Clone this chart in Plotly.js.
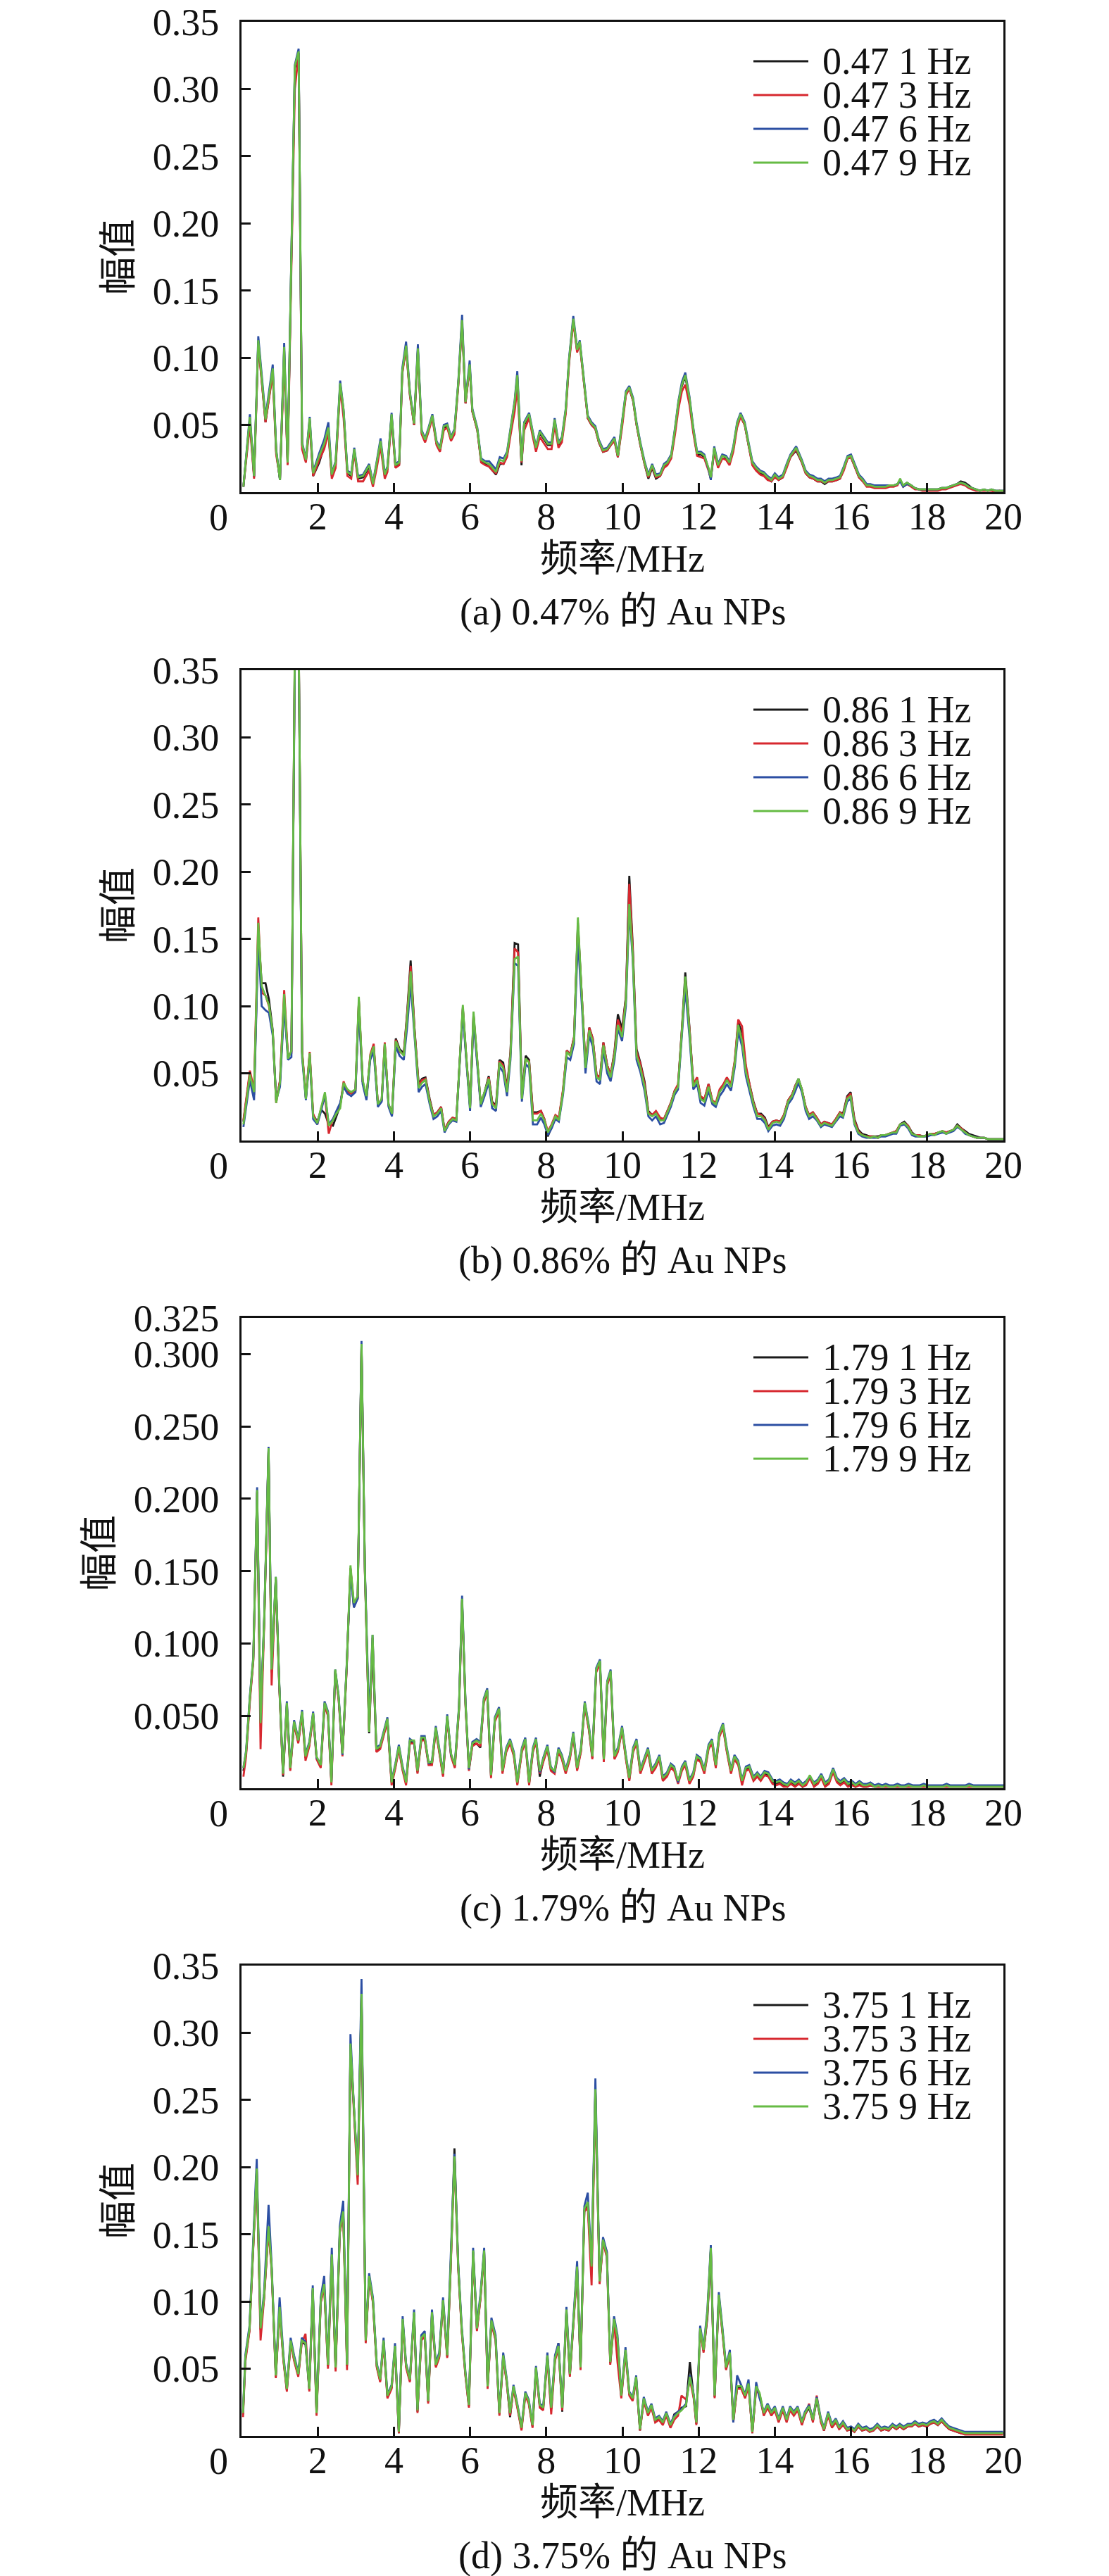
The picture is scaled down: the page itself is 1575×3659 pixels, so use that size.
<!DOCTYPE html>
<html>
<head>
<meta charset="utf-8">
<script src="https://cdn.plot.ly/plotly-3.0.1.min.js"></script>
<style>html,body{margin:0;padding:0;background:#fff;}#chart{width:1575px;height:3659px;}</style>
</head>
<body>
<div id="chart"></div>
<script>
// ---------------- DATA ----------------
const xTickVals = [2,4,6,8,10,12,14,16,18,20];
const yTickValsStd = [0.05,0.10,0.15,0.20,0.25,0.30,0.35];
const yTickValsC = [0.05,0.10,0.15,0.20,0.25,0.30,0.325];
const xTitle = '频率/MHz';
const yTitle = '幅值';
const captions = ['(a) 0.47% 的 Au NPs','(b) 0.86% 的 Au NPs','(c) 1.79% 的 Au NPs','(d) 3.75% 的 Au NPs'];
const labelsA = ['0.47 1 Hz','0.47 3 Hz','0.47 6 Hz','0.47 9 Hz'];
const labelsB = ['0.86 1 Hz','0.86 3 Hz','0.86 6 Hz','0.86 9 Hz'];
const labelsC = ['1.79 1 Hz','1.79 3 Hz','1.79 6 Hz','1.79 9 Hz'];
const labelsD = ['3.75 1 Hz','3.75 3 Hz','3.75 6 Hz','3.75 9 Hz'];

// ---- panel (a)
const freqA = [0.05,0.22,0.33,0.44,0.63,0.82,0.91,1.01,1.12,1.21,
1.40,1.50,1.59,1.69,1.79,1.88,2.04,2.17,2.28,2.37,
2.47,2.59,2.68,2.78,2.88,2.96,3.06,3.19,3.35,3.45,
3.55,3.65,3.76,3.83,3.94,4.04,4.14,4.22,4.32,4.42,
4.53,4.63,4.73,4.82,4.91,5.01,5.12,5.21,5.31,5.40,
5.50,5.59,5.69,5.79,5.88,5.99,6.06,6.19,6.29,6.40,
6.50,6.59,6.68,6.78,6.88,6.97,7.06,7.17,7.24,7.35,
7.42,7.55,7.64,7.73,7.83,7.94,8.04,8.14,8.22,8.32,
8.41,8.51,8.60,8.71,8.81,8.88,8.99,9.09,9.19,9.29,
9.38,9.49,9.60,9.69,9.79,9.88,9.99,10.09,10.18,10.28,
10.37,10.47,10.58,10.68,10.78,10.88,10.99,11.09,11.18,11.28,
11.38,11.47,11.56,11.65,11.76,11.86,11.96,12.06,12.15,12.26,
12.32,12.41,12.51,12.62,12.72,12.81,12.91,13.01,13.10,13.21,
13.31,13.41,13.51,13.62,13.71,13.81,13.91,14.00,14.10,14.21,
14.31,14.41,14.56,14.71,14.81,14.91,15.01,15.12,15.21,15.31,
15.41,15.51,15.62,15.71,15.81,15.91,16.00,16.10,16.21,16.31,
16.41,16.51,16.62,16.72,16.82,16.91,17.01,17.12,17.22,17.29,
17.37,17.47,17.58,17.68,17.78,17.87,17.97,18.08,18.18,18.28,
18.38,18.49,18.58,18.68,18.78,18.88,18.99,19.09,19.18,19.28,
19.38,19.49,19.59,19.69,19.79,19.90,20.00];
const a1Hz = [0.004,0.054,0.011,0.112,0.052,0.090,0.030,0.009,0.106,0.021,
0.315,0.327,0.035,0.023,0.053,0.012,0.022,0.034,0.046,0.012,
0.020,0.080,0.059,0.014,0.012,0.031,0.010,0.011,0.019,0.006,
0.021,0.037,0.012,0.017,0.057,0.019,0.021,0.089,0.108,0.073,
0.050,0.106,0.044,0.038,0.046,0.056,0.036,0.031,0.048,0.049,
0.039,0.045,0.080,0.127,0.066,0.094,0.060,0.046,0.023,0.021,
0.019,0.016,0.013,0.021,0.021,0.027,0.045,0.066,0.086,0.020,
0.050,0.057,0.044,0.032,0.044,0.039,0.035,0.035,0.053,0.035,
0.039,0.060,0.098,0.128,0.105,0.111,0.080,0.055,0.050,0.047,
0.037,0.030,0.031,0.035,0.039,0.026,0.050,0.073,0.077,0.068,
0.050,0.035,0.021,0.010,0.018,0.010,0.012,0.019,0.021,0.026,
0.046,0.066,0.079,0.086,0.069,0.046,0.028,0.028,0.026,0.017,
0.010,0.032,0.019,0.025,0.025,0.021,0.032,0.050,0.057,0.050,
0.035,0.021,0.017,0.014,0.013,0.010,0.008,0.012,0.009,0.011,
0.019,0.026,0.031,0.022,0.014,0.011,0.010,0.008,0.008,0.006,
0.008,0.008,0.009,0.010,0.017,0.025,0.026,0.019,0.011,0.008,
0.005,0.005,0.004,0.004,0.004,0.004,0.005,0.005,0.006,0.009,
0.005,0.007,0.005,0.003,0.002,0.002,0.002,0.002,0.002,0.002,
0.003,0.003,0.004,0.005,0.006,0.008,0.007,0.005,0.003,0.002,
0.001,0.002,0.001,0.002,0.001,0.001,0.001];
const a3Hz = [0.004,0.050,0.010,0.110,0.052,0.088,0.028,0.010,0.100,0.020,
0.300,0.326,0.032,0.022,0.050,0.012,0.024,0.032,0.044,0.010,
0.018,0.078,0.055,0.012,0.010,0.030,0.008,0.008,0.016,0.004,
0.018,0.034,0.010,0.015,0.055,0.018,0.020,0.088,0.107,0.072,
0.050,0.105,0.043,0.037,0.045,0.055,0.035,0.030,0.046,0.048,
0.038,0.043,0.079,0.126,0.066,0.093,0.060,0.046,0.022,0.020,
0.019,0.016,0.014,0.022,0.021,0.026,0.042,0.060,0.078,0.022,
0.046,0.055,0.042,0.030,0.041,0.036,0.032,0.032,0.050,0.033,
0.037,0.058,0.096,0.127,0.104,0.110,0.080,0.055,0.050,0.047,
0.037,0.030,0.031,0.035,0.038,0.026,0.048,0.072,0.077,0.068,
0.050,0.035,0.021,0.011,0.019,0.011,0.012,0.018,0.020,0.025,
0.043,0.062,0.075,0.080,0.065,0.044,0.027,0.026,0.025,0.016,
0.010,0.030,0.018,0.025,0.024,0.020,0.030,0.048,0.056,0.050,
0.035,0.020,0.016,0.013,0.012,0.009,0.008,0.011,0.009,0.011,
0.018,0.026,0.032,0.022,0.014,0.011,0.010,0.008,0.008,0.007,
0.008,0.008,0.009,0.010,0.016,0.025,0.026,0.019,0.011,0.008,
0.004,0.004,0.003,0.003,0.003,0.003,0.004,0.004,0.005,0.009,
0.004,0.006,0.004,0.002,0.002,0.001,0.001,0.001,0.001,0.001,
0.002,0.002,0.003,0.004,0.005,0.006,0.005,0.003,0.002,0.001,
0.001,0.001,0.001,0.001,0.000,0.001,0.000];
const a6Hz = [0.004,0.058,0.012,0.116,0.056,0.095,0.032,0.009,0.111,0.023,
0.318,0.330,0.037,0.025,0.056,0.015,0.029,0.039,0.052,0.014,
0.023,0.083,0.061,0.016,0.014,0.033,0.012,0.013,0.021,0.007,
0.023,0.040,0.014,0.019,0.059,0.021,0.023,0.092,0.112,0.075,
0.052,0.110,0.046,0.040,0.048,0.058,0.038,0.033,0.050,0.051,
0.041,0.047,0.082,0.132,0.068,0.098,0.062,0.048,0.025,0.023,
0.023,0.020,0.017,0.026,0.025,0.030,0.048,0.068,0.090,0.024,
0.052,0.059,0.046,0.034,0.046,0.041,0.037,0.037,0.055,0.037,
0.041,0.062,0.100,0.131,0.107,0.113,0.082,0.057,0.052,0.049,
0.039,0.032,0.033,0.037,0.041,0.028,0.052,0.075,0.079,0.070,
0.052,0.037,0.023,0.013,0.021,0.013,0.014,0.021,0.023,0.028,
0.048,0.068,0.082,0.089,0.071,0.048,0.030,0.030,0.028,0.017,
0.009,0.034,0.021,0.028,0.027,0.023,0.034,0.052,0.059,0.052,
0.037,0.023,0.019,0.016,0.015,0.012,0.010,0.014,0.011,0.013,
0.021,0.028,0.034,0.024,0.016,0.013,0.012,0.010,0.010,0.008,
0.010,0.010,0.011,0.012,0.019,0.027,0.028,0.021,0.013,0.010,
0.006,0.006,0.005,0.005,0.005,0.005,0.005,0.005,0.006,0.008,
0.004,0.006,0.005,0.003,0.002,0.002,0.002,0.002,0.002,0.002,
0.003,0.003,0.004,0.005,0.006,0.007,0.006,0.004,0.003,0.002,
0.001,0.002,0.001,0.002,0.001,0.001,0.001];
const a9Hz = [0.004,0.056,0.012,0.113,0.054,0.092,0.031,0.009,0.108,0.022,
0.317,0.328,0.036,0.024,0.055,0.014,0.027,0.036,0.048,0.013,
0.022,0.081,0.061,0.015,0.013,0.032,0.011,0.012,0.020,0.006,
0.022,0.038,0.013,0.018,0.058,0.020,0.022,0.090,0.109,0.074,
0.051,0.107,0.045,0.039,0.047,0.057,0.037,0.032,0.049,0.050,
0.040,0.046,0.081,0.128,0.067,0.095,0.061,0.047,0.024,0.022,
0.021,0.018,0.015,0.024,0.023,0.029,0.047,0.067,0.087,0.023,
0.051,0.058,0.045,0.033,0.045,0.040,0.036,0.036,0.054,0.036,
0.040,0.061,0.099,0.129,0.106,0.112,0.081,0.056,0.051,0.048,
0.038,0.031,0.032,0.036,0.040,0.027,0.051,0.074,0.078,0.069,
0.051,0.036,0.022,0.012,0.020,0.012,0.013,0.020,0.022,0.027,
0.047,0.067,0.080,0.087,0.070,0.047,0.029,0.029,0.027,0.018,
0.011,0.033,0.020,0.027,0.026,0.022,0.033,0.051,0.058,0.051,
0.036,0.022,0.018,0.015,0.014,0.011,0.009,0.013,0.010,0.012,
0.020,0.027,0.033,0.023,0.015,0.012,0.011,0.009,0.009,0.007,
0.009,0.009,0.010,0.011,0.018,0.026,0.027,0.020,0.012,0.009,
0.005,0.005,0.004,0.004,0.004,0.004,0.005,0.005,0.006,0.010,
0.005,0.007,0.005,0.003,0.002,0.002,0.002,0.002,0.002,0.002,
0.003,0.003,0.004,0.005,0.006,0.007,0.006,0.004,0.003,0.002,
0.001,0.002,0.001,0.002,0.001,0.001,0.001];

// ---- panel (b)
const freqB = [0.05,0.22,0.33,0.44,0.53,0.63,0.72,0.82,0.91,1.01,
1.12,1.22,1.31,1.40,1.50,1.59,1.69,1.79,1.88,1.99,
2.09,2.19,2.29,2.40,2.49,2.59,2.68,2.78,2.88,2.99,
3.08,3.18,3.28,3.38,3.47,3.58,3.68,3.76,3.86,3.95,
4.05,4.15,4.26,4.35,4.44,4.54,4.65,4.74,4.83,4.94,
5.04,5.14,5.24,5.33,5.44,5.54,5.64,5.72,5.81,5.90,
6.00,6.09,6.19,6.28,6.38,6.49,6.58,6.68,6.77,6.87,
6.97,7.06,7.17,7.26,7.36,7.46,7.55,7.65,7.76,7.86,
7.95,8.04,8.14,8.24,8.33,8.44,8.54,8.63,8.73,8.83,
8.94,9.03,9.13,9.22,9.32,9.41,9.50,9.60,9.69,9.79,
9.88,9.99,10.09,10.18,10.27,10.37,10.47,10.58,10.68,10.78,
10.88,10.99,11.09,11.18,11.27,11.37,11.46,11.56,11.65,11.76,
11.86,11.96,12.05,12.15,12.26,12.36,12.45,12.55,12.65,12.74,
12.85,12.95,13.04,13.14,13.24,13.35,13.44,13.54,13.64,13.74,
13.83,13.94,14.04,14.14,14.24,14.35,14.45,14.54,14.62,14.71,
14.81,14.90,15.00,15.10,15.21,15.30,15.40,15.50,15.60,15.71,
15.79,15.90,15.99,16.09,16.19,16.29,16.40,16.50,16.60,16.71,
16.79,16.90,17.00,17.10,17.19,17.29,17.40,17.50,17.60,17.69,
17.79,17.90,18.00,18.09,18.19,18.29,18.40,18.50,18.60,18.69,
18.79,18.90,19.00,19.09,19.19,19.30,19.40,19.50,19.60,19.71,
19.81,19.91,20.00];
const b1Hz = [0.014,0.050,0.034,0.155,0.117,0.117,0.105,0.082,0.030,0.044,
0.105,0.062,0.066,0.368,0.378,0.066,0.031,0.064,0.019,0.014,
0.023,0.020,0.012,0.011,0.018,0.026,0.042,0.037,0.035,0.037,
0.104,0.044,0.032,0.062,0.070,0.027,0.030,0.072,0.027,0.020,
0.076,0.068,0.065,0.096,0.134,0.084,0.042,0.046,0.047,0.031,
0.019,0.021,0.025,0.008,0.014,0.017,0.016,0.057,0.099,0.062,
0.025,0.094,0.057,0.027,0.036,0.048,0.029,0.026,0.060,0.058,
0.039,0.066,0.147,0.146,0.034,0.063,0.060,0.021,0.021,0.022,
0.016,0.003,0.010,0.018,0.016,0.037,0.067,0.064,0.077,0.162,
0.104,0.056,0.084,0.076,0.049,0.047,0.073,0.056,0.049,0.066,
0.094,0.083,0.107,0.197,0.145,0.068,0.058,0.044,0.022,0.019,
0.021,0.016,0.016,0.022,0.028,0.037,0.041,0.083,0.125,0.084,
0.042,0.046,0.033,0.030,0.042,0.029,0.027,0.037,0.041,0.046,
0.041,0.059,0.088,0.080,0.054,0.040,0.029,0.020,0.020,0.017,
0.010,0.014,0.015,0.014,0.019,0.030,0.034,0.041,0.046,0.038,
0.025,0.019,0.021,0.017,0.012,0.014,0.013,0.012,0.016,0.021,
0.020,0.033,0.036,0.016,0.008,0.005,0.004,0.003,0.003,0.003,
0.004,0.004,0.005,0.006,0.007,0.012,0.014,0.011,0.006,0.004,
0.004,0.003,0.004,0.005,0.005,0.006,0.007,0.006,0.007,0.008,
0.012,0.009,0.007,0.005,0.004,0.003,0.002,0.002,0.001,0.001,
0.001,0.001,0.001];
const b3Hz = [0.015,0.052,0.038,0.166,0.110,0.108,0.100,0.080,0.028,0.045,
0.112,0.063,0.065,0.365,0.378,0.067,0.032,0.066,0.020,0.012,
0.024,0.033,0.005,0.016,0.021,0.026,0.044,0.036,0.035,0.037,
0.104,0.044,0.031,0.064,0.072,0.027,0.030,0.073,0.026,0.019,
0.075,0.066,0.064,0.094,0.130,0.083,0.041,0.045,0.046,0.030,
0.019,0.021,0.025,0.008,0.014,0.017,0.016,0.056,0.098,0.062,
0.025,0.093,0.057,0.027,0.035,0.047,0.028,0.025,0.059,0.056,
0.038,0.065,0.143,0.140,0.032,0.060,0.059,0.020,0.020,0.022,
0.016,0.007,0.012,0.019,0.017,0.038,0.067,0.064,0.077,0.160,
0.104,0.056,0.084,0.076,0.049,0.047,0.073,0.056,0.049,0.065,
0.090,0.080,0.106,0.191,0.142,0.066,0.057,0.042,0.021,0.019,
0.022,0.017,0.016,0.022,0.028,0.037,0.042,0.082,0.120,0.083,
0.042,0.047,0.033,0.031,0.042,0.030,0.028,0.038,0.042,0.047,
0.042,0.060,0.090,0.085,0.056,0.040,0.028,0.020,0.019,0.016,
0.009,0.014,0.015,0.014,0.019,0.030,0.034,0.041,0.045,0.038,
0.025,0.019,0.021,0.017,0.012,0.014,0.013,0.012,0.016,0.021,
0.019,0.032,0.035,0.015,0.007,0.004,0.003,0.003,0.003,0.002,
0.004,0.004,0.005,0.006,0.007,0.012,0.013,0.011,0.005,0.004,
0.004,0.003,0.004,0.005,0.005,0.006,0.007,0.006,0.007,0.008,
0.011,0.009,0.006,0.004,0.003,0.002,0.002,0.002,0.001,0.001,
0.001,0.001,0.001];
const b6Hz = [0.010,0.045,0.030,0.150,0.100,0.097,0.095,0.078,0.030,0.040,
0.100,0.060,0.062,0.360,0.375,0.062,0.030,0.062,0.016,0.012,
0.022,0.034,0.012,0.016,0.022,0.028,0.040,0.035,0.033,0.036,
0.098,0.042,0.030,0.060,0.066,0.025,0.029,0.068,0.025,0.018,
0.070,0.063,0.060,0.085,0.117,0.077,0.036,0.040,0.042,0.027,
0.016,0.018,0.022,0.006,0.012,0.015,0.014,0.054,0.095,0.060,
0.022,0.090,0.055,0.025,0.033,0.043,0.024,0.022,0.055,0.051,
0.033,0.060,0.132,0.130,0.029,0.057,0.054,0.012,0.012,0.017,
0.012,0.004,0.009,0.016,0.014,0.034,0.062,0.060,0.072,0.150,
0.098,0.050,0.078,0.070,0.044,0.042,0.067,0.050,0.044,0.060,
0.083,0.074,0.100,0.172,0.135,0.060,0.051,0.037,0.018,0.015,
0.018,0.012,0.013,0.019,0.025,0.034,0.038,0.078,0.113,0.077,
0.038,0.042,0.028,0.026,0.037,0.027,0.025,0.033,0.037,0.042,
0.037,0.055,0.081,0.070,0.048,0.035,0.025,0.016,0.016,0.013,
0.007,0.011,0.012,0.011,0.016,0.027,0.031,0.037,0.043,0.036,
0.022,0.016,0.018,0.015,0.010,0.012,0.011,0.010,0.014,0.018,
0.017,0.029,0.031,0.012,0.005,0.003,0.002,0.002,0.002,0.002,
0.003,0.003,0.004,0.005,0.005,0.011,0.012,0.009,0.004,0.003,
0.003,0.003,0.003,0.004,0.004,0.005,0.006,0.005,0.006,0.007,
0.010,0.008,0.005,0.004,0.003,0.002,0.002,0.002,0.001,0.001,
0.001,0.001,0.001];
const b9Hz = [0.012,0.049,0.036,0.162,0.115,0.108,0.101,0.081,0.028,0.043,
0.109,0.061,0.067,0.370,0.380,0.065,0.031,0.065,0.018,0.013,
0.024,0.036,0.011,0.015,0.020,0.024,0.043,0.038,0.036,0.038,
0.107,0.045,0.033,0.063,0.070,0.027,0.031,0.072,0.027,0.020,
0.074,0.067,0.063,0.092,0.126,0.081,0.039,0.043,0.045,0.029,
0.018,0.020,0.024,0.007,0.013,0.016,0.015,0.058,0.101,0.063,
0.024,0.096,0.058,0.027,0.036,0.046,0.027,0.024,0.058,0.054,
0.036,0.063,0.135,0.137,0.031,0.061,0.058,0.015,0.015,0.020,
0.015,0.006,0.011,0.018,0.015,0.036,0.066,0.063,0.075,0.166,
0.104,0.054,0.082,0.074,0.047,0.045,0.071,0.054,0.047,0.063,
0.086,0.077,0.104,0.176,0.138,0.063,0.054,0.040,0.020,0.018,
0.020,0.015,0.015,0.021,0.027,0.036,0.040,0.081,0.122,0.081,
0.040,0.045,0.031,0.029,0.040,0.029,0.027,0.036,0.040,0.045,
0.040,0.058,0.086,0.074,0.051,0.038,0.027,0.018,0.018,0.015,
0.008,0.013,0.014,0.013,0.018,0.029,0.033,0.040,0.046,0.038,
0.024,0.018,0.020,0.016,0.011,0.013,0.012,0.011,0.015,0.020,
0.018,0.031,0.033,0.013,0.006,0.004,0.003,0.002,0.003,0.002,
0.004,0.004,0.005,0.006,0.006,0.012,0.013,0.010,0.005,0.004,
0.003,0.003,0.004,0.005,0.004,0.006,0.007,0.005,0.007,0.008,
0.011,0.008,0.006,0.004,0.003,0.002,0.002,0.002,0.001,0.001,
0.001,0.001,0.001];

// ---- panel (c)
const freqC = [0.05,0.12,0.22,0.31,0.41,0.50,0.60,0.71,0.79,0.90,
0.99,1.09,1.19,1.28,1.38,1.49,1.59,1.68,1.78,1.88,
1.97,2.08,2.18,2.27,2.36,2.46,2.55,2.65,2.76,2.86,
2.95,3.05,3.15,3.24,3.35,3.44,3.54,3.64,3.74,3.83,
3.94,4.04,4.13,4.23,4.32,4.42,4.53,4.62,4.72,4.81,
4.91,5.00,5.10,5.19,5.29,5.40,5.50,5.60,5.71,5.79,
5.88,5.97,6.06,6.17,6.27,6.36,6.45,6.55,6.65,6.76,
6.85,6.95,7.05,7.15,7.24,7.36,7.45,7.55,7.65,7.73,
7.83,7.92,8.03,8.12,8.22,8.32,8.41,8.51,8.62,8.71,
8.81,8.91,9.01,9.12,9.21,9.31,9.41,9.51,9.60,9.69,
9.79,9.88,9.99,10.09,10.18,10.28,10.37,10.47,10.58,10.67,
10.77,10.87,10.97,11.06,11.17,11.27,11.36,11.46,11.56,11.65,
11.76,11.86,11.95,12.05,12.15,12.26,12.35,12.45,12.54,12.64,
12.74,12.85,12.94,13.04,13.14,13.24,13.33,13.44,13.54,13.63,
13.73,13.83,13.94,14.03,14.13,14.23,14.33,14.42,14.53,14.63,
14.73,14.82,14.92,15.03,15.13,15.22,15.32,15.42,15.53,15.63,
15.72,15.82,15.92,16.03,16.12,16.22,16.32,16.42,16.51,16.62,
16.72,16.82,16.91,17.01,17.12,17.22,17.31,17.41,17.51,17.62,
17.71,17.81,17.91,18.01,18.10,18.21,18.31,18.41,18.51,18.60,
18.71,18.81,18.91,19.01,19.10,19.21,19.31,19.41,19.50,19.60,
19.71,19.81,19.91,20.00];
const c1Hz = [0.012,0.024,0.062,0.089,0.205,0.045,0.119,0.234,0.080,0.145,
0.072,0.008,0.058,0.013,0.045,0.032,0.052,0.021,0.030,0.051,
0.021,0.015,0.058,0.051,0.004,0.081,0.062,0.023,0.083,0.152,
0.125,0.132,0.306,0.149,0.038,0.100,0.026,0.028,0.038,0.047,
0.004,0.015,0.028,0.013,0.004,0.032,0.032,0.011,0.034,0.034,
0.017,0.017,0.041,0.026,0.009,0.049,0.023,0.015,0.055,0.130,
0.058,0.013,0.030,0.031,0.028,0.060,0.067,0.008,0.047,0.054,
0.011,0.026,0.032,0.023,0.003,0.026,0.033,0.003,0.026,0.033,
0.008,0.019,0.028,0.013,0.011,0.026,0.021,0.011,0.021,0.037,
0.013,0.026,0.058,0.041,0.021,0.081,0.087,0.019,0.072,0.080,
0.021,0.026,0.041,0.021,0.006,0.026,0.032,0.011,0.019,0.026,
0.011,0.015,0.021,0.006,0.009,0.015,0.013,0.004,0.013,0.017,
0.004,0.009,0.021,0.019,0.011,0.028,0.032,0.015,0.036,0.043,
0.026,0.011,0.021,0.017,0.004,0.013,0.014,0.006,0.009,0.006,
0.010,0.009,0.004,0.003,0.004,0.002,0.001,0.004,0.002,0.004,
0.001,0.003,0.008,0.002,0.004,0.008,0.002,0.004,0.012,0.005,
0.003,0.005,0.002,0.003,0.001,0.003,0.001,0.001,0.002,0.001,
0.001,0.001,0.001,0.001,0.001,0.001,0.001,0.001,0.001,0.001,
0.001,0.001,0.001,0.001,0.001,0.001,0.001,0.001,0.001,0.001,
0.001,0.001,0.001,0.001,0.001,0.001,0.001,0.001,0.001,0.001,
0.001,0.001,0.001,0.001];
const c3Hz = [0.008,0.022,0.060,0.088,0.204,0.027,0.118,0.233,0.071,0.144,
0.071,0.009,0.057,0.012,0.044,0.031,0.051,0.019,0.029,0.050,
0.020,0.014,0.057,0.050,0.002,0.080,0.061,0.022,0.082,0.152,
0.127,0.131,0.305,0.148,0.040,0.104,0.025,0.027,0.037,0.046,
0.002,0.014,0.027,0.012,0.002,0.031,0.031,0.010,0.033,0.033,
0.016,0.016,0.040,0.025,0.008,0.048,0.022,0.014,0.054,0.129,
0.057,0.012,0.029,0.031,0.029,0.059,0.066,0.007,0.046,0.053,
0.010,0.025,0.031,0.022,0.002,0.025,0.032,0.002,0.025,0.032,
0.010,0.018,0.027,0.012,0.010,0.025,0.020,0.010,0.020,0.036,
0.012,0.025,0.057,0.040,0.020,0.080,0.086,0.018,0.071,0.079,
0.020,0.025,0.040,0.020,0.005,0.025,0.031,0.010,0.018,0.025,
0.010,0.014,0.020,0.005,0.008,0.014,0.012,0.003,0.012,0.016,
0.003,0.008,0.020,0.018,0.010,0.027,0.031,0.014,0.035,0.042,
0.025,0.010,0.020,0.016,0.002,0.012,0.013,0.005,0.008,0.005,
0.009,0.008,0.003,0.002,0.003,0.001,0.001,0.003,0.001,0.003,
0.001,0.002,0.007,0.001,0.003,0.007,0.001,0.003,0.011,0.004,
0.002,0.004,0.001,0.002,0.001,0.002,0.001,0.001,0.002,0.001,
0.001,0.001,0.001,0.001,0.001,0.001,0.001,0.001,0.001,0.001,
0.001,0.001,0.001,0.001,0.001,0.001,0.001,0.001,0.001,0.001,
0.001,0.001,0.001,0.001,0.001,0.001,0.001,0.001,0.001,0.001,
0.001,0.001,0.001,0.001];
const c6Hz = [0.014,0.026,0.064,0.091,0.208,0.047,0.121,0.236,0.083,0.146,
0.074,0.011,0.060,0.015,0.047,0.034,0.054,0.023,0.032,0.053,
0.021,0.017,0.060,0.053,0.005,0.082,0.064,0.023,0.085,0.148,
0.125,0.131,0.309,0.151,0.048,0.106,0.028,0.030,0.040,0.049,
0.005,0.017,0.030,0.015,0.005,0.034,0.032,0.013,0.036,0.036,
0.017,0.019,0.043,0.028,0.011,0.051,0.023,0.017,0.057,0.133,
0.060,0.013,0.032,0.034,0.032,0.062,0.069,0.010,0.049,0.056,
0.013,0.028,0.034,0.025,0.005,0.028,0.035,0.005,0.028,0.035,
0.011,0.021,0.030,0.015,0.011,0.028,0.023,0.013,0.023,0.039,
0.015,0.028,0.060,0.043,0.023,0.083,0.089,0.021,0.074,0.082,
0.023,0.028,0.043,0.023,0.008,0.028,0.034,0.013,0.021,0.028,
0.013,0.017,0.023,0.008,0.011,0.017,0.015,0.004,0.015,0.019,
0.006,0.011,0.023,0.021,0.013,0.030,0.034,0.017,0.038,0.045,
0.028,0.013,0.023,0.019,0.006,0.015,0.016,0.008,0.011,0.008,
0.012,0.011,0.006,0.005,0.006,0.004,0.003,0.006,0.004,0.006,
0.003,0.005,0.008,0.004,0.006,0.010,0.004,0.006,0.014,0.007,
0.005,0.007,0.004,0.005,0.003,0.005,0.003,0.003,0.004,0.002,
0.003,0.002,0.003,0.002,0.002,0.003,0.002,0.002,0.003,0.002,
0.002,0.002,0.003,0.002,0.002,0.002,0.002,0.002,0.003,0.002,
0.002,0.002,0.002,0.002,0.003,0.002,0.002,0.002,0.002,0.002,
0.002,0.002,0.002,0.002];
const c9Hz = [0.014,0.025,0.063,0.090,0.206,0.045,0.120,0.235,0.082,0.146,
0.073,0.010,0.059,0.014,0.046,0.033,0.053,0.022,0.031,0.052,
0.022,0.016,0.059,0.052,0.004,0.082,0.063,0.024,0.084,0.154,
0.128,0.133,0.307,0.150,0.039,0.106,0.027,0.029,0.039,0.048,
0.004,0.016,0.029,0.014,0.004,0.033,0.033,0.012,0.035,0.035,
0.018,0.018,0.042,0.027,0.010,0.050,0.024,0.016,0.056,0.131,
0.059,0.014,0.031,0.033,0.031,0.061,0.068,0.009,0.048,0.055,
0.012,0.027,0.033,0.024,0.004,0.027,0.034,0.004,0.027,0.034,
0.012,0.020,0.029,0.014,0.012,0.027,0.022,0.012,0.022,0.038,
0.014,0.027,0.059,0.042,0.022,0.082,0.088,0.020,0.073,0.081,
0.022,0.027,0.042,0.022,0.007,0.027,0.033,0.012,0.020,0.027,
0.012,0.016,0.022,0.007,0.010,0.016,0.014,0.005,0.014,0.018,
0.005,0.010,0.022,0.020,0.012,0.029,0.033,0.016,0.037,0.044,
0.027,0.012,0.022,0.018,0.005,0.014,0.015,0.007,0.010,0.007,
0.011,0.010,0.005,0.004,0.005,0.003,0.002,0.005,0.003,0.005,
0.002,0.004,0.009,0.003,0.005,0.009,0.003,0.005,0.013,0.006,
0.004,0.006,0.003,0.004,0.002,0.004,0.002,0.002,0.003,0.001,
0.002,0.001,0.002,0.001,0.001,0.002,0.001,0.001,0.002,0.001,
0.001,0.001,0.002,0.001,0.001,0.001,0.001,0.001,0.002,0.001,
0.001,0.001,0.001,0.001,0.002,0.001,0.001,0.001,0.001,0.001,
0.001,0.001,0.001,0.001];

// ---- panel (d)
const freqD = [0.04,0.10,0.21,0.29,0.40,0.50,0.59,0.71,0.79,0.90,
1.00,1.10,1.19,1.29,1.38,1.49,1.58,1.68,1.78,1.87,
1.97,2.08,2.17,2.27,2.37,2.47,2.58,2.67,2.77,2.86,
2.95,3.05,3.15,3.26,3.35,3.45,3.55,3.64,3.73,3.83,
3.94,4.03,4.13,4.23,4.32,4.42,4.53,4.62,4.72,4.81,
4.90,5.00,5.10,5.19,5.29,5.40,5.49,5.59,5.69,5.78,
5.88,5.97,6.08,6.18,6.27,6.37,6.46,6.56,6.67,6.77,
6.87,6.96,7.05,7.14,7.24,7.35,7.45,7.54,7.64,7.73,
7.83,7.92,8.03,8.13,8.23,8.32,8.42,8.53,8.62,8.72,
8.81,8.90,9.00,9.09,9.19,9.29,9.40,9.49,9.59,9.68,
9.78,9.87,9.97,10.08,10.18,10.27,10.36,10.46,10.56,10.67,
10.76,10.86,10.96,11.06,11.15,11.26,11.36,11.46,11.55,11.67,
11.77,11.87,11.94,12.04,12.13,12.23,12.32,12.42,12.53,12.62,
12.72,12.82,12.91,13.01,13.12,13.22,13.31,13.41,13.51,13.60,
13.71,13.81,13.91,14.00,14.10,14.21,14.31,14.40,14.50,14.60,
14.71,14.79,14.90,15.00,15.10,15.21,15.29,15.40,15.50,15.60,
15.69,15.79,15.90,16.00,16.09,16.19,16.29,16.40,16.49,16.59,
16.69,16.79,16.88,16.99,17.09,17.19,17.28,17.38,17.49,17.59,
17.68,17.78,17.88,17.99,18.08,18.18,18.28,18.38,18.47,18.58,
18.68,18.78,18.88,18.99,19.08,19.18,19.28,19.38,19.49,19.59,
19.68,19.78,19.88,19.99];
const d1Hz = [0.016,0.057,0.079,0.129,0.198,0.079,0.102,0.155,0.125,0.044,
0.095,0.057,0.034,0.070,0.057,0.045,0.070,0.068,0.034,0.109,
0.016,0.100,0.112,0.052,0.134,0.050,0.152,0.166,0.052,0.291,
0.241,0.193,0.328,0.070,0.118,0.100,0.052,0.041,0.070,0.029,
0.036,0.066,0.002,0.086,0.052,0.041,0.091,0.018,0.072,0.075,
0.025,0.091,0.052,0.059,0.100,0.059,0.125,0.214,0.125,0.079,
0.045,0.022,0.137,0.079,0.102,0.137,0.036,0.085,0.072,0.016,
0.059,0.041,0.014,0.036,0.022,0.005,0.031,0.025,0.007,0.050,
0.022,0.020,0.059,0.020,0.057,0.069,0.018,0.093,0.045,0.089,
0.125,0.050,0.168,0.172,0.125,0.257,0.114,0.145,0.137,0.054,
0.086,0.072,0.029,0.063,0.031,0.027,0.043,0.004,0.027,0.016,
0.022,0.011,0.013,0.009,0.016,0.007,0.016,0.018,0.021,0.022,
0.055,0.029,0.009,0.079,0.063,0.088,0.139,0.029,0.104,0.079,
0.050,0.061,0.011,0.036,0.036,0.029,0.038,0.002,0.036,0.031,
0.016,0.022,0.016,0.020,0.011,0.020,0.011,0.020,0.016,0.020,
0.009,0.016,0.021,0.011,0.027,0.011,0.004,0.016,0.007,0.011,
0.005,0.009,0.004,0.005,0.003,0.007,0.004,0.005,0.003,0.004,
0.007,0.004,0.005,0.004,0.007,0.005,0.007,0.005,0.007,0.007,
0.009,0.007,0.008,0.007,0.009,0.010,0.008,0.011,0.008,0.005,
0.004,0.003,0.002,0.002,0.002,0.002,0.002,0.002,0.002,0.002,
0.002,0.002,0.002,0.002];
const d3Hz = [0.014,0.055,0.078,0.128,0.197,0.071,0.101,0.153,0.124,0.043,
0.094,0.056,0.033,0.069,0.056,0.044,0.069,0.076,0.033,0.108,
0.015,0.099,0.111,0.050,0.133,0.048,0.151,0.165,0.049,0.290,
0.240,0.187,0.327,0.069,0.117,0.099,0.051,0.040,0.069,0.028,
0.035,0.065,0.002,0.085,0.051,0.040,0.090,0.017,0.071,0.074,
0.024,0.090,0.051,0.058,0.099,0.058,0.124,0.206,0.124,0.078,
0.044,0.021,0.136,0.078,0.101,0.136,0.035,0.084,0.071,0.015,
0.058,0.040,0.015,0.035,0.021,0.004,0.030,0.024,0.006,0.049,
0.021,0.019,0.058,0.016,0.056,0.065,0.019,0.092,0.044,0.088,
0.124,0.049,0.167,0.170,0.112,0.256,0.113,0.144,0.133,0.053,
0.085,0.055,0.028,0.062,0.030,0.026,0.042,0.004,0.026,0.015,
0.021,0.010,0.012,0.008,0.015,0.006,0.012,0.015,0.030,0.027,
0.042,0.028,0.008,0.078,0.062,0.090,0.138,0.028,0.103,0.078,
0.049,0.060,0.010,0.035,0.035,0.028,0.037,0.002,0.035,0.030,
0.015,0.021,0.015,0.019,0.010,0.019,0.010,0.019,0.015,0.019,
0.008,0.015,0.024,0.010,0.030,0.010,0.004,0.015,0.006,0.010,
0.005,0.008,0.004,0.005,0.003,0.007,0.004,0.005,0.003,0.004,
0.007,0.004,0.005,0.004,0.007,0.005,0.007,0.005,0.007,0.007,
0.009,0.007,0.008,0.007,0.009,0.010,0.008,0.011,0.008,0.005,
0.004,0.003,0.002,0.001,0.001,0.001,0.001,0.001,0.001,0.001,
0.001,0.001,0.001,0.001];
const d6Hz = [0.018,0.060,0.082,0.133,0.206,0.082,0.106,0.172,0.128,0.046,
0.103,0.060,0.036,0.073,0.060,0.047,0.073,0.070,0.036,0.112,
0.018,0.103,0.119,0.054,0.140,0.052,0.156,0.175,0.054,0.299,
0.245,0.196,0.340,0.073,0.121,0.103,0.054,0.043,0.073,0.031,
0.038,0.069,0.004,0.089,0.054,0.043,0.094,0.020,0.075,0.078,
0.027,0.094,0.054,0.062,0.103,0.062,0.128,0.210,0.128,0.082,
0.047,0.024,0.140,0.082,0.105,0.140,0.038,0.088,0.075,0.018,
0.062,0.043,0.018,0.038,0.024,0.007,0.033,0.027,0.009,0.052,
0.024,0.022,0.062,0.022,0.060,0.069,0.022,0.096,0.047,0.092,
0.130,0.052,0.171,0.181,0.128,0.266,0.117,0.148,0.137,0.056,
0.089,0.075,0.031,0.066,0.033,0.029,0.045,0.006,0.029,0.018,
0.024,0.013,0.015,0.011,0.018,0.009,0.015,0.018,0.020,0.024,
0.045,0.031,0.011,0.082,0.066,0.094,0.142,0.031,0.107,0.082,
0.052,0.064,0.010,0.045,0.038,0.031,0.042,0.004,0.040,0.028,
0.018,0.024,0.018,0.022,0.013,0.022,0.013,0.022,0.018,0.022,
0.011,0.018,0.023,0.013,0.029,0.013,0.006,0.018,0.009,0.013,
0.007,0.011,0.006,0.007,0.005,0.009,0.006,0.007,0.005,0.006,
0.009,0.006,0.007,0.006,0.009,0.007,0.009,0.007,0.009,0.009,
0.011,0.009,0.010,0.009,0.011,0.012,0.010,0.013,0.010,0.007,
0.006,0.005,0.004,0.003,0.003,0.003,0.003,0.003,0.003,0.003,
0.003,0.003,0.003,0.003];
const d9Hz = [0.017,0.058,0.080,0.130,0.199,0.080,0.103,0.156,0.126,0.045,
0.096,0.058,0.035,0.071,0.058,0.046,0.071,0.069,0.035,0.110,
0.017,0.101,0.113,0.053,0.135,0.051,0.153,0.167,0.053,0.292,
0.242,0.194,0.329,0.071,0.119,0.101,0.053,0.042,0.071,0.030,
0.037,0.067,0.003,0.087,0.053,0.042,0.092,0.019,0.073,0.076,
0.026,0.092,0.053,0.060,0.101,0.060,0.126,0.208,0.126,0.080,
0.046,0.023,0.138,0.080,0.103,0.138,0.037,0.086,0.073,0.017,
0.060,0.042,0.017,0.037,0.023,0.006,0.032,0.026,0.008,0.051,
0.023,0.021,0.060,0.021,0.058,0.067,0.021,0.094,0.046,0.090,
0.126,0.051,0.169,0.174,0.126,0.258,0.115,0.146,0.135,0.055,
0.087,0.073,0.030,0.064,0.032,0.028,0.044,0.005,0.028,0.017,
0.023,0.012,0.014,0.010,0.017,0.008,0.014,0.017,0.019,0.023,
0.044,0.030,0.010,0.080,0.064,0.092,0.140,0.030,0.105,0.080,
0.051,0.062,0.012,0.037,0.037,0.030,0.039,0.003,0.037,0.032,
0.017,0.023,0.017,0.021,0.012,0.021,0.012,0.021,0.017,0.021,
0.010,0.017,0.022,0.012,0.028,0.012,0.005,0.017,0.008,0.012,
0.006,0.010,0.005,0.006,0.004,0.008,0.005,0.006,0.004,0.005,
0.008,0.005,0.006,0.005,0.008,0.006,0.008,0.006,0.008,0.008,
0.010,0.008,0.009,0.008,0.010,0.011,0.009,0.012,0.009,0.006,
0.005,0.004,0.003,0.002,0.002,0.002,0.002,0.002,0.002,0.002,
0.002,0.002,0.002,0.002];

// ---------------- BUILD ----------------
const W = 1575, H = 3659;
const FONT = '"Liberation Serif", "Times New Roman", "Noto Sans CJK SC", serif';
const FS = 54;
const colors = ['#1a1a1a', '#d7282f', '#2c4fa3', '#66bb44'];
const plotLeft = 343, plotRight = 1425, plotH = 668;
const panelTops = [31, 952, 1872, 2792];

const panels = [
  {freq: freqA, series: [a1Hz, a3Hz, a6Hz, a9Hz], labels: labelsA, ymax: 0.35, yt: yTickValsStd, fmt: '.2f'},
  {freq: freqB, series: [b1Hz, b3Hz, b6Hz, b9Hz], labels: labelsB, ymax: 0.35, yt: yTickValsStd, fmt: '.2f'},
  {freq: freqC, series: [c1Hz, c3Hz, c6Hz, c9Hz], labels: labelsC, ymax: 0.325, yt: yTickValsC, fmt: '.3f'},
  {freq: freqD, series: [d1Hz, d3Hz, d6Hz, d9Hz], labels: labelsD, ymax: 0.35, yt: yTickValsStd, fmt: '.2f'}
];

const px = v => v / W;
const py = v => 1 - v / H;

const traces = [];
const layout = {
  width: W, height: H,
  margin: {l: 0, r: 0, t: 0, b: 0},
  paper_bgcolor: '#ffffff', plot_bgcolor: '#ffffff',
  showlegend: false,
  font: {family: FONT, size: FS, color: '#111111'},
  annotations: [], shapes: []
};

panels.forEach((p, i) => {
  const n = i + 1;
  const xa = n === 1 ? 'x' : 'x' + n;
  const ya = n === 1 ? 'y' : 'y' + n;
  const top = panelTops[i], bottom = top + plotH;
  p.series.forEach((s, k) => {
    traces.push({
      type: 'scatter', mode: 'lines', x: p.freq, y: s, name: p.labels[k],
      xaxis: xa, yaxis: ya,
      line: {color: colors[k], width: 2.8}, hoverinfo: 'x+y+name'
    });
  });
  const common = {
    showline: true, linecolor: '#111111', linewidth: 3, mirror: true,
    ticks: 'inside', ticklen: 13, tickwidth: 3, tickcolor: '#111111',
    showgrid: false, zeroline: false,
    tickfont: {family: FONT, size: FS, color: '#111111'}
  };
  layout[n === 1 ? 'xaxis' : 'xaxis' + n] = Object.assign({}, common, {
    domain: [px(plotLeft), px(plotRight)], range: [0, 20], anchor: ya,
    tickmode: 'array', tickvals: xTickVals, ticktext: xTickVals.map(String),
    ticklabelstandoff: -15,
    title: {text: xTitle, font: {family: FONT, size: FS, color: '#111111'}, standoff: 4}
  });
  layout[n === 1 ? 'yaxis' : 'yaxis' + n] = Object.assign({}, common, {
    domain: [py(bottom), py(top)], range: [0, p.ymax], anchor: xa,
    tickmode: 'array', tickvals: p.yt, tickformat: p.fmt,
    ticklabelstandoff: 18,
    title: {text: yTitle, font: {family: FONT, size: FS, color: '#111111'}, standoff: 12}
  });
  // origin "0" label
  layout.annotations.push({
    xref: 'paper', yref: 'paper', x: px(310), y: py(bottom + 36),
    xanchor: 'center', yanchor: 'middle', showarrow: false,
    text: '0', font: {family: FONT, size: FS, color: '#111111'}
  });
  // caption
  layout.annotations.push({
    xref: 'paper', yref: 'paper', x: px(884), y: py(bottom + 170),
    xanchor: 'center', yanchor: 'middle', showarrow: false,
    text: captions[i], font: {family: FONT, size: FS, color: '#111111'}
  });
  // legend (manual, compact line spacing as in the reference)
  p.labels.forEach((lab, k) => {
    const yy = top + 56 + 48 * k;
    layout.shapes.push({
      type: 'line', xref: 'paper', yref: 'paper',
      x0: px(1070), x1: px(1148), y0: py(yy), y1: py(yy),
      line: {color: colors[k], width: 3}
    });
    layout.annotations.push({
      xref: 'paper', yref: 'paper', x: px(1166), y: py(yy),
      xanchor: 'left', yanchor: 'middle', showarrow: false,
      text: lab, font: {family: FONT, size: FS, color: '#111111'}
    });
  });
});

Plotly.newPlot('chart', traces, layout, {staticPlot: true});
</script>
</body>
</html>
